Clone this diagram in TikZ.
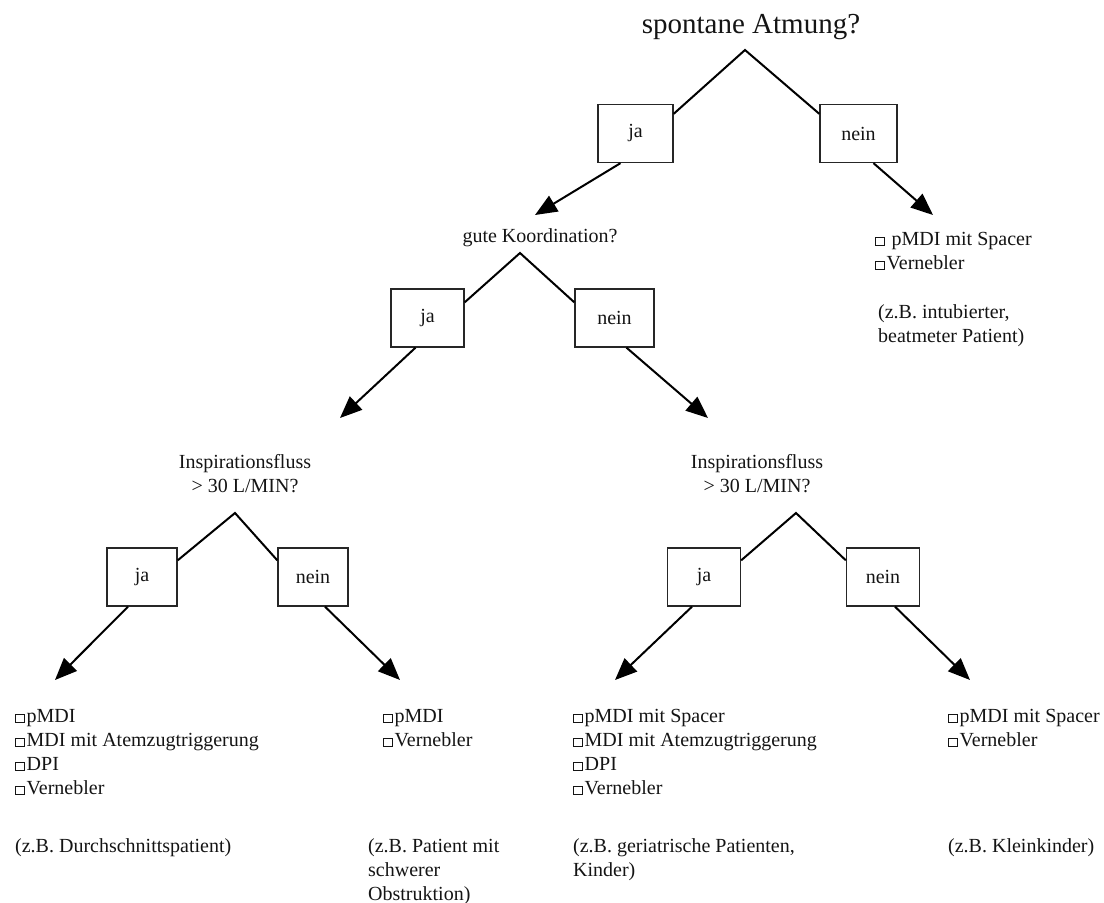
\documentclass[tikz,border=0pt]{standalone}
\usepackage{fontspec}
\setmainfont{Liberation Serif}
\usetikzlibrary{arrows.meta,calc}
\newcommand{\sqb}{{\setlength{\fboxsep}{0pt}\setlength{\fboxrule}{0.8pt}\fbox{\rule{0pt}{0.38em}\rule{0.42em}{0pt}}}\hspace{1.5pt}}
\begin{document}
\begin{tikzpicture}[x=1pt,y=-1pt,
  txt/.style={text=black!92, inner sep=0pt, font=\fontsize{20}{24}\selectfont},
  lst/.style={txt, anchor=north west, align=left},
  qst/.style={txt, align=center},
  ans/.style={draw=black!85, line width=1.3pt, minimum height=58pt, minimum width=75pt, inner sep=0pt, txt},
  arr/.style={line width=2pt, -{Triangle[length=22pt,width=18pt]}},
  ln/.style={line width=2pt}]
\useasboundingbox (0,0) rectangle (1104,903);

% level 1
\node[txt, font=\fontsize{29}{34}\selectfont] (q1) at (751,27) {spontane Atmung?};
\coordinate (a1) at (745,50);
\node[ans, minimum width=75pt] (ja1) at (635.5,133.5) {ja};
\node[ans, minimum width=77pt] (nein1) at (858.5,133.5) {nein};
\draw[ln] ($(ja1.north east)+(0,10)$) -- (a1) -- ($(nein1.north west)+(0,10)$);
\coordinate (t1) at (535,215);
\coordinate (t2) at (933,215);
\draw[arr] ($(ja1.south)+(-15,0)$) -- (t1);
\draw[arr] ($(nein1.south)+(15,0)$) -- (t2);

% right result
\node[lst] (l0) at (875,228) {\strut\sqb{} pMDI mit Spacer\\\sqb Vernebler};
\node[lst] (n0) at (878,301) {\strut(z.B. intubierter,\\beatmeter Patient)};

% level 2
\node[qst] (q2) at (540,238) {gute Koordination?};
\coordinate (a2) at (520,253);
\node[ans, minimum width=73pt] (ja2) at (427.5,318) {ja};
\node[ans, minimum width=79pt] (nein2) at (614.5,318) {nein};
\draw[ln] ($(ja2.north east)+(0,14)$) -- (a2) -- ($(nein2.north west)+(0,14)$);
\coordinate (t3) at (340,418);
\coordinate (t4) at (708,418);
\draw[arr] ($(ja2.south)+(-12,0)$) -- (t3);
\draw[arr] ($(nein2.south)+(12,0)$) -- (t4);

% level 3 left
\node[qst] (q3) at (245,474) {Inspirationsfluss\\> 30 L/MIN?};
\coordinate (a3) at (235,513);
\node[ans, minimum width=70pt] (ja3) at (142,577) {ja};
\node[ans, minimum width=70pt] (nein3) at (313,577) {nein};
\draw[ln] ($(ja3.north east)+(0,13)$) -- (a3) -- ($(nein3.north west)+(0,13)$);
\coordinate (t5) at (55,680);
\coordinate (t6) at (400,680);
\draw[arr] ($(ja3.south)+(-14,0)$) -- (t5);
\draw[arr] ($(nein3.south)+(12,0)$) -- (t6);

% level 3 right
\node[qst] (q4) at (757,474) {Inspirationsfluss\\> 30 L/MIN?};
\coordinate (a4) at (796,513);
\node[ans, minimum width=73pt] (ja4) at (704,577) {ja};
\node[ans, minimum width=73pt] (nein4) at (883,577) {nein};
\draw[ln] ($(ja4.north east)+(0,13)$) -- (a4) -- ($(nein4.north west)+(0,13)$);
\coordinate (t7) at (615,680);
\coordinate (t8) at (970,680);
\draw[arr] ($(ja4.south)+(-12,0)$) -- (t7);
\draw[arr] ($(nein4.south)+(12,0)$) -- (t8);

% results
\node[lst] (l1) at (15,705) {\strut\sqb pMDI\\\sqb MDI mit Atemzugtriggerung\\\sqb DPI\\\sqb Vernebler};
\node[lst] (n1) at (15,835) {\strut(z.B. Durchschnittspatient)};
\node[lst] (l2) at (383,705) {\strut\sqb pMDI\\\sqb Vernebler};
\node[lst] (n2) at (368,835) {\strut(z.B. Patient mit\\schwerer\\Obstruktion)};
\node[lst] (l3) at (573,705) {\strut\sqb pMDI mit Spacer\\\sqb MDI mit Atemzugtriggerung\\\sqb DPI\\\sqb Vernebler};
\node[lst] (n3) at (573,835) {\strut(z.B. geriatrische Patienten,\\Kinder)};
\node[lst] (l4) at (948,705) {\strut\sqb pMDI mit Spacer\\\sqb Vernebler};
\node[lst] (n4) at (948,835) {\strut(z.B. Kleinkinder)};
\end{tikzpicture}
\end{document}
